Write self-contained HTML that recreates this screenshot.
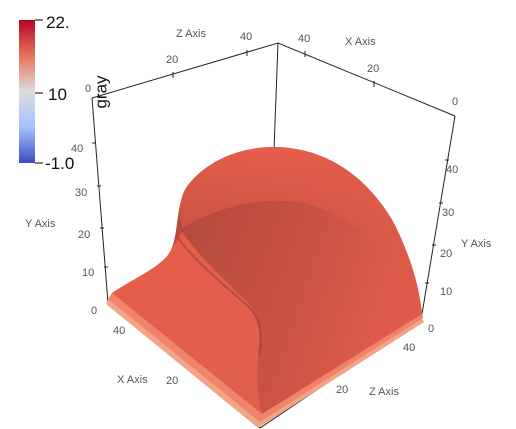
<!DOCTYPE html>
<html><head><meta charset="utf-8"><style>
html,body{margin:0;padding:0;background:#fff;}
svg{display:block;font-family:"Liberation Sans",sans-serif;}
.t{font-size:11px;fill:#555;}
</style></head><body>
<svg width="516" height="429" viewBox="0 0 516 429">
<defs>
<linearGradient id="cb" x1="0" y1="0" x2="0" y2="1">
<stop offset="0" stop-color="#b40426"/><stop offset="0.25" stop-color="#e7745b"/>
<stop offset="0.5" stop-color="#dddcdc"/><stop offset="0.75" stop-color="#a3c2fe"/><stop offset="1" stop-color="#3b4cc0"/>
</linearGradient>
<linearGradient id="dome" x1="0" y1="0" x2="1" y2="0.3">
<stop offset="0" stop-color="#a8453a"/><stop offset="0.35" stop-color="#b84c3e"/><stop offset="0.75" stop-color="#cc5444"/><stop offset="1" stop-color="#e05c4a"/>
</linearGradient>
<linearGradient id="hi" x1="0" y1="0" x2="0" y2="1">
<stop offset="0" stop-color="#e65e4a"/><stop offset="1" stop-color="#d65747" stop-opacity="0"/>
</linearGradient>
<linearGradient id="top" x1="0" y1="0" x2="0" y2="1">
<stop offset="0" stop-color="#e65e4a"/><stop offset="1" stop-color="#e0604c"/>
</linearGradient>
</defs>
<g>
<rect x="19" y="20" width="16" height="143" fill="url(#cb)"/>
<path d="M35 20h8M35 93h8M35 163h8" stroke="#000" stroke-width="1"/>
<text x="46" y="28" font-size="17" fill="#111">22.</text>
<text x="48" y="100" font-size="17" fill="#111">10</text>
<text x="45" y="169" font-size="17" fill="#111">-1.0</text>
<text transform="translate(101,92) rotate(-90)" font-size="17" fill="#111" text-anchor="middle" dominant-baseline="central">gray</text>
</g>
<g stroke="#222" stroke-width="1" fill="none">
<path d="M92 98L278 43L455 116"/>
<path d="M92 98L108 303"/>
<path d="M455 116L421 320"/>
<path d="M278 43L274 150"/>
<path d="M108 303L260 428L421 320"/>
<path d="M173 72v6M247 50v6M305 51v6M374 81v6M92 143h4M97 186h4M100 228h4M104 267h4M445 160h4M439 203h4M432 245h4M425 283h4M130 323l3 -3M188 370l3 -3M330 382l-3 -3M400 335l-3 -3"/>
</g>
<g class="t">
<text x="176" y="37">Z Axis</text><text x="166" y="63">20</text><text x="240" y="40">40</text>
<text x="298" y="42">40</text><text x="345" y="45">X Axis</text><text x="367" y="72">20</text><text x="452" y="105">0</text>
<text x="85" y="92">0</text>
<text x="71" y="152">40</text><text x="75" y="196">30</text><text x="78" y="238">20</text><text x="82" y="276">10</text><text x="91" y="314">0</text>
<text x="25" y="227">Y Axis</text>
<text x="446" y="173">40</text><text x="442" y="216">30</text><text x="440" y="257">20</text><text x="440" y="295">10</text><text x="428" y="332">0</text>
<text x="461" y="247">Y Axis</text>
<text x="113" y="334">40</text><text x="117" y="383">X Axis</text><text x="166" y="384">20</text>
<text x="403" y="351">40</text><text x="336" y="393">20</text><text x="369" y="395">Z Axis</text>
</g>
<g>
<path d="M106 304L258 428L424 322L420 316L260 418L110 297Z" fill="#f2a488"/>
<path d="M108 299L260 422L423 318L422 312L262 414L112 293Z" fill="#f0846a"/>
<path d="M112 293C135 278 158 268 168 255C180 240 174 205 188 185C208 160 240 147 275 147C330 148 370 180 395 225C412 260 420 290 422 314L262 414L112 293Z" fill="url(#dome)"/>
<path d="M188 185C208 160 240 147 275 147C330 148 370 180 395 225C412 260 420 290 422 314C400 260 360 215 300 202C250 196 210 212 182 228C178 210 180 195 188 185Z" fill="url(#hi)"/>
<path d="M112 293C135 278 158 268 168 255C174 246 178 238 182 232C200 258 230 285 250 305C262 320 260 340 258 360C256 380 258 400 262 414Z" fill="url(#top)"/>
<path d="M178 238C195 262 228 288 250 308C262 322 262 340 259 355" stroke="#8f3a2e" stroke-width="2" fill="none" opacity="0.5"/>
</g>
</svg>
</body></html>
